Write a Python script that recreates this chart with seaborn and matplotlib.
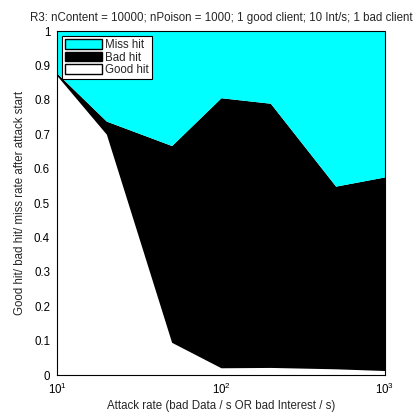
import matplotlib
matplotlib.use("Agg")
import matplotlib.pyplot as plt
import seaborn as sns
import numpy as np
from matplotlib.patches import Patch
from matplotlib.ticker import FixedLocator, LogLocator, NullFormatter

attack_rate = [10, 20, 50, 100, 200, 500, 1000]
good_hit = [0.870, 0.700, 0.095, 0.021, 0.022, 0.018, 0.013]
bad_hit = [0.007, 0.038, 0.572, 0.785, 0.768, 0.531, 0.563]
miss_hit = [1 - g - b for g, b in zip(good_hit, bad_hit)]
series_names = ["Good hit", "Bad hit", "Miss hit"]
colors = ["#ffffff", "#000000", "#00ffff"]

sns.set_theme(style="ticks")
plt.rcParams['font.family'] = ['Liberation Sans', 'DejaVu Sans']
plt.rcParams['mathtext.fontset'] = 'custom'
plt.rcParams['mathtext.rm'] = 'Liberation Sans'

fs = 8.3
fig = plt.figure(figsize=(4.17, 4.16), dpi=100)
ax = fig.add_axes([57/417, 1 - 375/416, (385-57)/417, (375-31)/416])

ax.stackplot(attack_rate, good_hit, bad_hit, miss_hit, colors=colors,
             linewidth=0)
ax.set_xscale("log")
ax.set_xlim(10, 1000)
ax.set_ylim(0, 1)
ax.yaxis.set_major_locator(FixedLocator(np.arange(0, 1.01, 0.1)))
ax.set_yticklabels(["0", "0.1", "0.2", "0.3", "0.4", "0.5", "0.6", "0.7", "0.8", "0.9", "1"])
ax.xaxis.set_minor_locator(LogLocator(base=10, subs=np.arange(2, 10)))
ax.xaxis.set_minor_formatter(NullFormatter())
ax.tick_params(direction="in", labelsize=fs, length=4, width=0.6, colors="black",
               top=False, right=False, pad=5)
ax.tick_params(which="minor", direction="in", length=2.5, width=0.6)
for s in ["left", "bottom"]:
    ax.spines[s].set_linewidth(0.8)
    ax.spines[s].set_color("black")
for s in ["top", "right"]:
    ax.spines[s].set_linewidth(0.8)
    ax.spines[s].set_color("black")
    ax.spines[s].set_linestyle((0, (1, 1)))

ax.set_title("R3: nContent = 10000; nPoison = 1000; 1 good client; 10 Int/s; 1 bad client",
             fontsize=fs, pad=7)
ax.set_xlabel("Attack rate (bad Data / s OR bad Interest / s)", fontsize=fs, labelpad=2)
ax.set_ylabel("Good hit/ bad hit/ miss rate after attack start", fontsize=fs, labelpad=6)

handles = [Patch(facecolor=colors[2], edgecolor="black", label="Miss hit"),
           Patch(facecolor=colors[1], edgecolor="black", label="Bad hit"),
           Patch(facecolor=colors[0], edgecolor="black", label="Good hit")]
leg = ax.legend(handles=handles, loc="upper left", fontsize=fs, frameon=True,
                fancybox=False, edgecolor="black", framealpha=1,
                borderpad=0.25, labelspacing=0.05, handlelength=3.2, handleheight=0.9,
                handletextpad=0.3, borderaxespad=0.45)
leg.get_frame().set_linewidth(0.8)

fig.savefig("out.png", dpi=100)
